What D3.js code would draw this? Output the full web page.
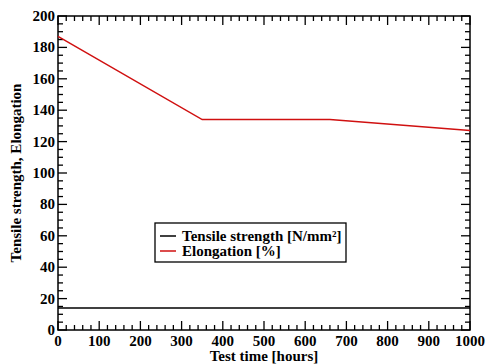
<!DOCTYPE html>
<html>
<head>
<meta charset="utf-8">
<script src="https://cdn.jsdelivr.net/npm/d3@7"></script>
<style>
  body { margin: 0; background: #fff; }
</style>
</head>
<body>
<div id="vis-container"></div>
<script>
const width = 488;
const height = 364;
const margin = { top: 16, right: 18, bottom: 34, left: 58 };

// data
const hours = [0, 350, 660, 1000];
const elongation = [187, 134, 134, 127];
const tensileHours = [0, 1000];
const tensile = [14, 14];
const xTicks = [0, 100, 200, 300, 400, 500, 600, 700, 800, 900, 1000];
const yTicks = [0, 20, 40, 60, 80, 100, 120, 140, 160, 180, 200];

const svg = d3.select("#vis-container")
  .append("svg")
  .attr("width", width)
  .attr("height", height)
  .style("font-family", "'Liberation Serif', 'DejaVu Serif Condensed', serif")
  .attr("font-weight", "bold");

const x = d3.scaleLinear()
  .domain([0, 1000])
  .range([margin.left, width - margin.right]);

const y = d3.scaleLinear()
  .domain([0, 200])
  .range([height - margin.bottom, margin.top]);

const x0 = margin.left, x1 = width - margin.right;
const y0 = height - margin.bottom, y1 = margin.top;

// minor + major ticks, pointing inward on all four sides
const xMinor = d3.range(0, 1001, 20);
const yMinor = d3.range(0, 201, 5);
const ticks = svg.append("g").attr("stroke", "#000").attr("stroke-width", 1.3);

xMinor.forEach((v) => {
  const len = v % 100 === 0 ? 9 : 5;
  ticks.append("line").attr("x1", x(v)).attr("x2", x(v)).attr("y1", y0).attr("y2", y0 - len);
  ticks.append("line").attr("x1", x(v)).attr("x2", x(v)).attr("y1", y1).attr("y2", y1 + len);
});
yMinor.forEach((v) => {
  const len = v % 20 === 0 ? 9 : 5;
  ticks.append("line").attr("x1", x0).attr("x2", x0 + len).attr("y1", y(v)).attr("y2", y(v));
  ticks.append("line").attr("x1", x1).attr("x2", x1 - len).attr("y1", y(v)).attr("y2", y(v));
});

// tick labels
svg.append("g")
  .selectAll("text")
  .data(xTicks)
  .enter()
  .append("text")
    .attr("x", (d) => x(d))
    .attr("y", y0 + 16)
    .attr("text-anchor", "middle")
    .attr("font-size", "15px")
    .text((d) => d);

svg.append("g")
  .selectAll("text")
  .data(yTicks)
  .enter()
  .append("text")
    .attr("x", x0 - 3)
    .attr("y", (d) => y(d) + 5)
    .attr("text-anchor", "end")
    .attr("font-size", "15px")
    .text((d) => d);

// frame
svg.append("rect")
  .attr("x", x0).attr("y", y1)
  .attr("width", x1 - x0).attr("height", y0 - y1)
  .attr("fill", "none")
  .attr("stroke", "#000")
  .attr("stroke-width", 1.5);

// lines
const line = d3.line().x((d) => x(d[0])).y((d) => y(d[1]));

svg.append("path")
  .datum(d3.zip(tensileHours, tensile))
  .attr("d", line)
  .attr("fill", "none")
  .attr("stroke", "#000")
  .attr("stroke-width", 1.5);

svg.append("path")
  .datum(d3.zip(hours, elongation))
  .attr("d", line)
  .attr("fill", "none")
  .attr("stroke", "#d01010")
  .attr("stroke-width", 1.5);

// axis titles
svg.append("text")
  .attr("x", (x0 + x1) / 2)
  .attr("y", height - 3)
  .attr("text-anchor", "middle")
  .attr("font-size", "15px")
  .text("Test time [hours]");

svg.append("text")
  .attr("transform", `translate(21,${(y0 + y1) / 2}) rotate(-90)`)
  .attr("text-anchor", "middle")
  .attr("font-size", "15px")
  .text("Tensile strength, Elongation");

// legend
const legend = svg.append("g").attr("transform", "translate(155,223)");
legend.append("rect")
  .attr("width", 191).attr("height", 39)
  .attr("fill", "#fff")
  .attr("stroke", "#000")
  .attr("stroke-width", 1.3);

const legendItems = [
  { label: "Tensile strength [N/mm²]", color: "#000" },
  { label: "Elongation [%]", color: "#d01010" }
];
legendItems.forEach((d, i) => {
  const yy = 13 + i * 15;
  legend.append("line")
    .attr("x1", 5).attr("x2", 21)
    .attr("y1", yy).attr("y2", yy)
    .attr("stroke", d.color).attr("stroke-width", 1.5);
  legend.append("text")
    .attr("x", 27).attr("y", yy + 5)
    .attr("font-size", "15px")
    .text(d.label);
});
</script>
</body>
</html>
